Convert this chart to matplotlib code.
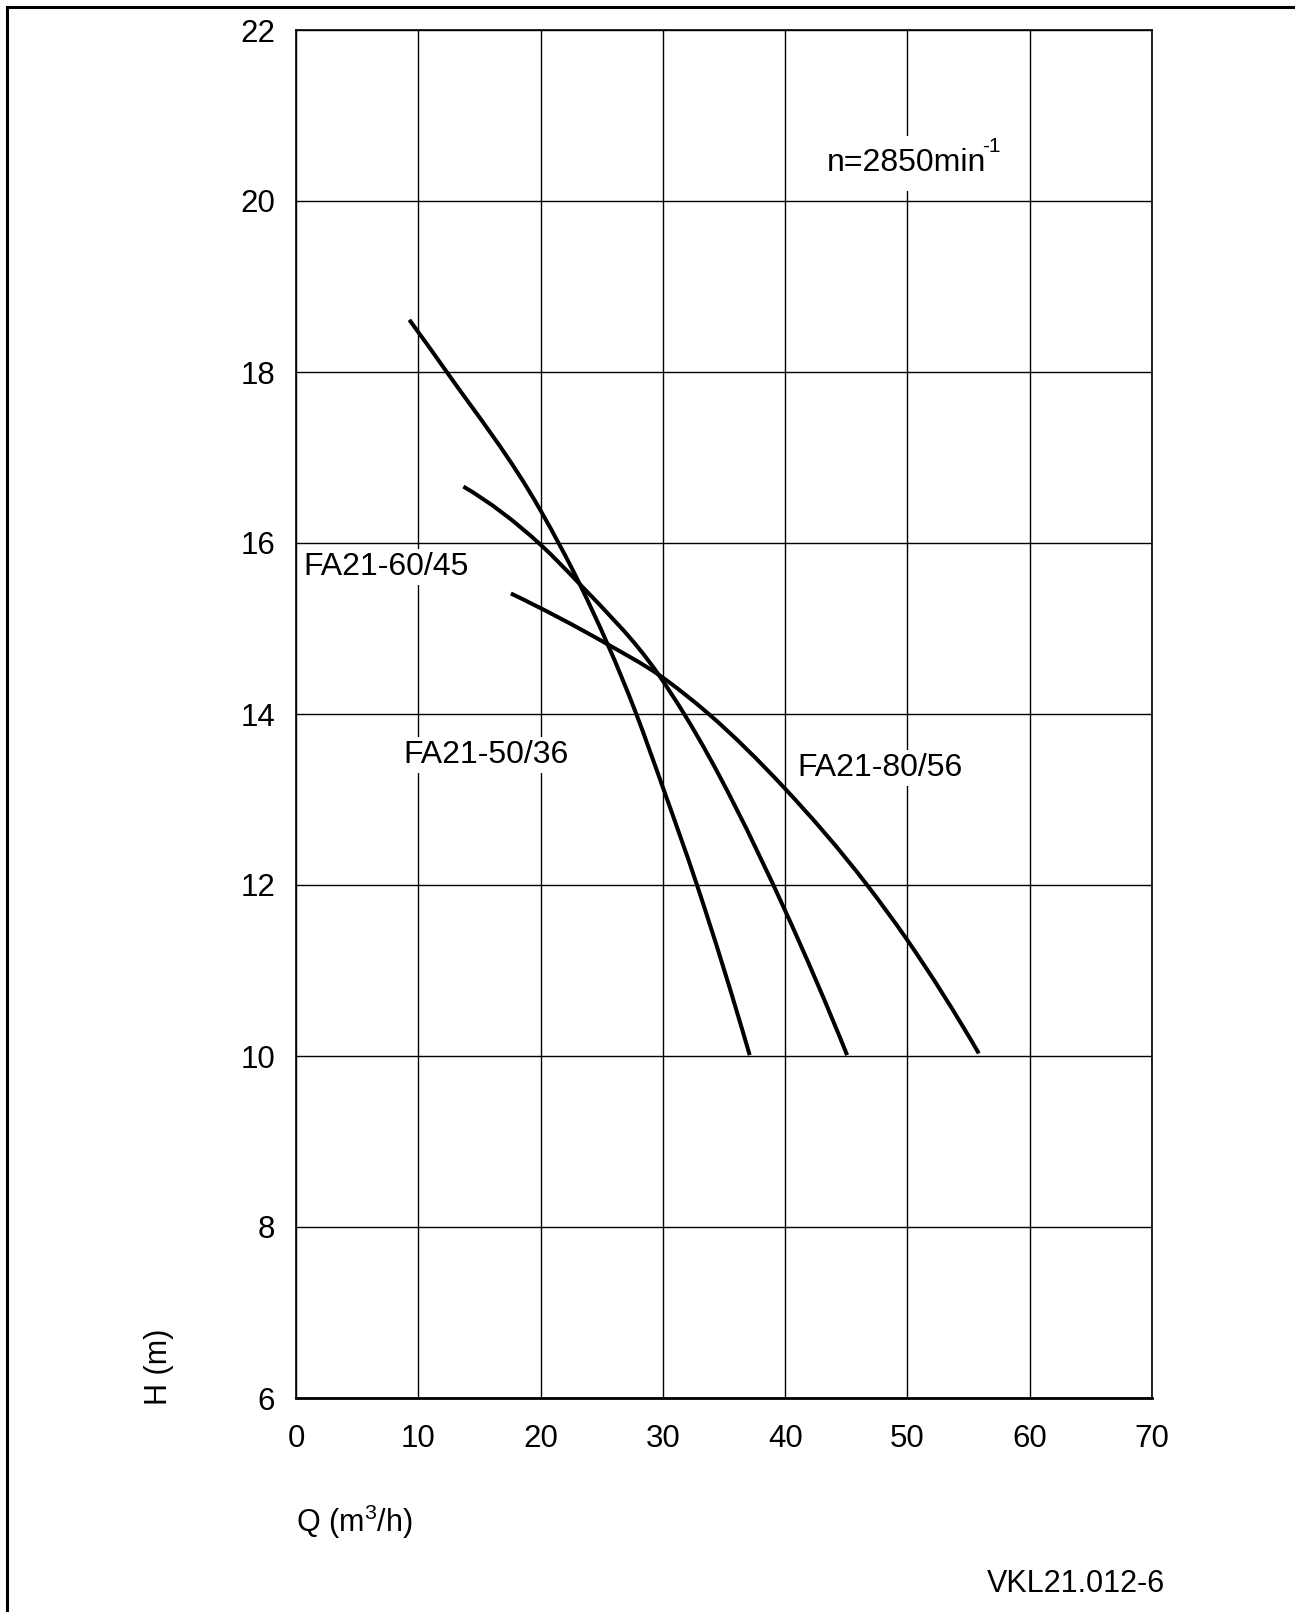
import matplotlib
matplotlib.use("Agg")
import matplotlib.pyplot as plt
import numpy as np
from matplotlib.lines import Line2D
from matplotlib.path import Path
from matplotlib.patches import PathPatch

plt.rcParams['font.family'] = ['Liberation Sans', 'DejaVu Sans']

# Data (Q in m3/h, H in m)
q_50_36 = [9.27, 12.33, 20.0, 23.2, 27.8, 29.98, 32.79, 37.1]
h_50_36 = [18.61, 18.0, 16.38, 15.52, 14.01, 13.15, 12.0, 10.01]

q_60_45 = [13.69, 20.0, 23.2, 29.65, 31.7, 39.97, 45.07]
h_60_45 = [16.66, 15.98, 15.52, 14.46, 14.01, 11.71, 10.01]

q_80_56 = [17.57, 25.42, 29.65, 33.75, 39.97, 46.7, 49.97, 55.84]
h_80_56 = [15.41, 14.82, 14.46, 14.0, 13.13, 12.0, 11.36, 10.03]

x_ticks = [0, 10, 20, 30, 40, 50, 60, 70]
y_ticks = [6, 8, 10, 12, 14, 16, 18, 20, 22]

fig = plt.figure(figsize=(12.95, 16.12), dpi=100)
ax = fig.add_axes([296/1295, 1 - 1398/1612, (1152-296)/1295, (1398-30)/1612])

ax.set_xlim(0, 70)
ax.set_ylim(6, 22)
ax.set_xticks(x_ticks)
ax.set_yticks(y_ticks)
ax.grid(True, color='black', linewidth=1.0, zorder=0)
ax.tick_params(length=0, labelsize=22.5)
ax.tick_params(axis='y', pad=15)
ax.tick_params(axis='x', pad=19)
for s in ax.spines.values():
    s.set_linewidth(1.2)
ax.spines['bottom'].set_linewidth(2.0)


def smooth_path(q, h):
    """Cubic Bezier path through the read points; tangents from local parabolas."""
    x = np.asarray(q, float)
    y = np.asarray(h, float)
    dx = np.diff(x)
    s = np.diff(y) / dx
    n = len(x)
    d = np.empty(n)
    for i in range(1, n - 1):
        d[i] = (dx[i] * s[i - 1] + dx[i - 1] * s[i]) / (dx[i - 1] + dx[i])
    d[0] = ((2 * dx[0] + dx[1]) * s[0] - dx[0] * s[1]) / (dx[0] + dx[1])
    d[-1] = ((2 * dx[-1] + dx[-2]) * s[-1] - dx[-1] * s[-2]) / (dx[-1] + dx[-2])
    verts = [(x[0], y[0])]
    codes = [Path.MOVETO]
    for i in range(n - 1):
        L = dx[i]
        verts += [(x[i] + L / 3, y[i] + d[i] * L / 3),
                  (x[i + 1] - L / 3, y[i + 1] - d[i + 1] * L / 3),
                  (x[i + 1], y[i + 1])]
        codes += [Path.CURVE4] * 3
    return Path(verts, codes)


for q, h in [(q_50_36, h_50_36), (q_60_45, h_60_45), (q_80_56, h_80_56)]:
    patch = PathPatch(smooth_path(q, h), facecolor='none', edgecolor='black',
                      linewidth=2.9, capstyle='butt', transform=ax.transData, zorder=3)
    ax.add_patch(patch)

bbox = dict(facecolor='white', edgecolor='none', pad=2)
ax.text(0.6, 15.72, 'FA21-60/45', fontsize=23, va='center', ha='left', bbox=bbox, zorder=4)
ax.text(8.75, 13.52, 'FA21-50/36', fontsize=23, va='center', ha='left', bbox=bbox, zorder=4)
ax.text(41.0, 13.37, 'FA21-80/56', fontsize=23, va='center', ha='left', bbox=bbox, zorder=4)
ax.text(43.4, 20.44, 'n=2850min', fontsize=23, va='center', ha='left',
        bbox=dict(facecolor='white', edgecolor='none', pad=9), zorder=4)
ax.text(56.1, 20.64, '-1', fontsize=15, va='center', ha='left', zorder=5)

fig.text(159/1295, 1 - 1367/1612, 'H (m)', rotation=90, fontsize=22, ha='center', va='center')
fig.text(296/1295, 1 - 1522/1612, r'Q (m$^{\mathregular{3}}$/h)', fontsize=22, ha='left', va='center')
fig.text(1165/1295, 1 - 1584/1612, 'VKL21.012-6', fontsize=22, ha='right', va='center')

# outer border (left and top)
fig.add_artist(Line2D([7/1295, 7/1295], [0, 1 - 7/1612], color='black', linewidth=2.2, transform=fig.transFigure))
fig.add_artist(Line2D([7/1295, 1], [1 - 7/1612, 1 - 7/1612], color='black', linewidth=2.2, transform=fig.transFigure))

fig.savefig('out.png', dpi=100)
